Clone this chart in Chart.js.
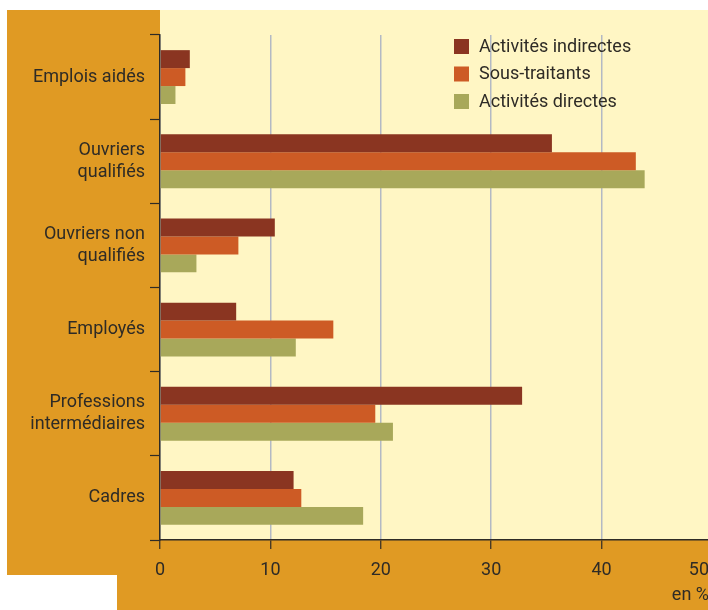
<!DOCTYPE html>
<html><head><meta charset="utf-8">
<script src="https://cdn.jsdelivr.net/npm/chart.js@4.4.0/dist/chart.umd.min.js"></script>
<style>
html,body{margin:0;padding:0;background:#fff;overflow:hidden}
#wrap{width:708px;height:610px;overflow:hidden;position:relative}
#c{position:absolute;left:0;top:0}
</style></head><body>
<div id="wrap"><canvas id="c" width="730" height="610" style="width:730px;height:610px"></canvas></div>
<script>
const categories = [['Emplois aidés'], ['Ouvriers', 'qualifiés'], ['Ouvriers non', 'qualifiés'], ['Employés'], ['Professions', 'intermédiaires'], ['Cadres']];
const seriesNames = ['Activités indirectes', 'Sous-traitants', 'Activités directes'];
const indirectes = [2.7, 35.5, 10.4, 6.9, 32.8, 12.1];
const sousTraitants = [2.3, 43.1, 7.1, 15.7, 19.5, 12.8];
const directes = [1.4, 43.9, 3.3, 12.3, 21.1, 18.4];
const xTickValues = [0, 10, 20, 30, 40, 50];
const unitLabel = 'en %';

const COLORS = ['#8A3521', '#CD5B25', '#A8A85A'];
const ORANGE = '#E09A23';
const YELLOW = '#FFF6C4';
const TEXT = '#2E2B26';
const FONT = 'Roboto, "Liberation Sans", sans-serif';
const FS = 18;

const bgPlugin = {
  id: 'bg',
  beforeDraw(chart) {
    const ctx = chart.ctx, a = chart.chartArea, W = chart.width, H = chart.height;
    ctx.save();
    ctx.fillStyle = '#ffffff';
    ctx.fillRect(0, 0, W, H);
    ctx.fillStyle = ORANGE;
    ctx.fillRect(7, 10, a.left - 7, 565);
    ctx.fillRect(117, a.bottom, W - 117, H - a.bottom);
    ctx.fillStyle = YELLOW;
    ctx.fillRect(a.left, 10, W - a.left, a.bottom - 10);
    ctx.restore();
  },
  afterDraw(chart) {
    const ctx = chart.ctx, xs = chart.scales.x;
    ctx.save();
    ctx.fillStyle = TEXT;
    ctx.font = FS + 'px ' + FONT;
    ctx.textBaseline = 'alphabetic';
    const rightLimit = 709;
    xTickValues.forEach(v => {
      const px = xs.getPixelForValue(v);
      const t = String(v);
      const w = ctx.measureText(t).width;
      if (px + w / 2 > rightLimit) { ctx.textAlign = 'right'; ctx.fillText(t, rightLimit, 575); }
      else { ctx.textAlign = 'center'; ctx.fillText(t, px, 575); }
    });
    ctx.textAlign = 'right';
    ctx.fillText(unitLabel, rightLimit, 600);
    // legend
    ctx.textAlign = 'left';
    ctx.textBaseline = 'middle';
    chart.data.datasets.forEach((ds, i) => {
      const y = 39 + i * 27.5;
      ctx.fillStyle = ds.backgroundColor;
      ctx.fillRect(454, y, 15, 15);
      ctx.fillStyle = TEXT;
      ctx.fillText(ds.label, 479, y + 8);
    });
    ctx.restore();
  }
};

new Chart(document.getElementById('c'), {
  type: 'bar',
  data: {
    labels: categories,
    datasets: [
      { label: seriesNames[0], data: indirectes, backgroundColor: COLORS[0] },
      { label: seriesNames[1], data: sousTraitants, backgroundColor: COLORS[1] },
      { label: seriesNames[2], data: directes, backgroundColor: COLORS[2] }
    ]
  },
  options: {
    indexAxis: 'y',
    responsive: false,
    animation: false,
    devicePixelRatio: 1,
    layout: { padding: { top: 35, right: 18, left: 0, bottom: 0 } },
    datasets: { bar: { categoryPercentage: 0.64, barPercentage: 1.0, borderWidth: 0 } },
    plugins: { legend: { display: false }, tooltip: { enabled: false } },
    scales: {
      x: {
        type: 'linear', min: 0, max: 50,
        ticks: { stepSize: 10, display: false },
        grid: { color: '#B3B9C4', lineWidth: 1.5, tickColor: TEXT, tickWidth: 1.2, tickLength: 9 },
        border: { color: TEXT, width: 1.5 },
        afterFit(s) { s.height = 70; }
      },
      y: {
        type: 'category',
        ticks: { color: TEXT, font: { family: FONT, size: FS, lineHeight: 1.2 }, padding: 5, autoSkip: false },
        grid: { offset: true, drawOnChartArea: false, tickColor: TEXT, tickWidth: 1.2, tickLength: 10 },
        border: { color: TEXT, width: 1.5 },
        afterFit(s) { s.width = 160; }
      }
    }
  },
  plugins: [bgPlugin]
});
</script>
</body></html>
